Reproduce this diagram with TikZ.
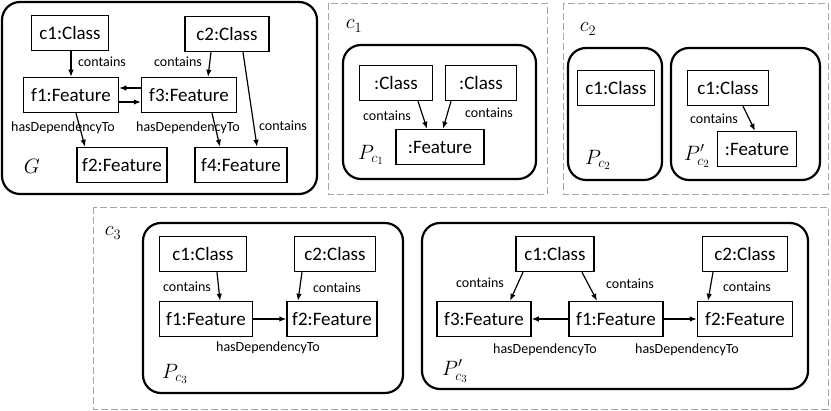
\documentclass[tikz,border=0pt]{standalone}
\usepackage{fontspec}
\setmainfont{Carlito}
\usetikzlibrary{arrows.meta}
\tikzset{
  obj/.style={draw, line width=1.5pt, font=\fontsize{19}{21}\selectfont, minimum height=35pt, minimum width=#1, inner sep=2pt},
  pat/.style={draw, line width=2.2pt, rounded corners=18pt},
  ctx/.style={draw=black!35, line width=0.9pt, dash pattern=on 7pt off 3pt},
  rel/.style={-{Latex[length=7pt,width=5.5pt]}, line width=1.2pt},
  lbl/.style={font=\fontsize{14}{16}\selectfont, inner sep=0pt},
  nm/.style={font=\fontsize{21}{24}\selectfont, inner sep=0pt},
}
\begin{document}
\begin{tikzpicture}[x=1pt, y=-1pt]
\useasboundingbox (0,0) rectangle (831,411);
% graph G
\draw[pat] (2,2) rectangle (317,194);
\node[obj=77pt] (gc1) at (70,33) {c1:Class};
\node[obj=84pt] (gc2) at (227,34) {c2:Class};
\node[obj=95pt] (gf1) at (71,95) {f1:Feature};
\node[obj=95pt] (gf3) at (189,95) {f3:Feature};
\node[obj=90pt] (gf2) at (122,165) {f2:Feature};
\node[obj=92pt] (gf4) at (241,165) {f4:Feature};
\node[nm] (gname) at (32,166) {$G$};
\draw[rel] ([xshift=1pt]gc1.south) -- (gf1.north);
\draw[rel] ([xshift=-16pt]gc2.south) -- ([xshift=19pt]gf3.north);
\draw[rel] ([yshift=7pt]gf3.west) -- ([yshift=7pt]gf1.east);
\draw[rel] ([yshift=-7pt]gf1.east) -- ([yshift=-7pt]gf3.west);
\draw[rel] ([xshift=5pt]gf1.south) -- ([xshift=-37pt]gf2.north);
\draw[rel] ([xshift=23pt]gf3.south) -- ([xshift=-21pt]gf4.north);
\draw[rel] ([xshift=16pt]gc2.south) -- ([xshift=16pt]gf4.north);
\node[lbl] (gl1) at (102,62) {contains};
\node[lbl] (gl2) at (178,62) {contains};
\node[lbl] (gl3) at (63,128) {hasDependencyTo};
\node[lbl] (gl4) at (188,128) {hasDependencyTo};
\node[lbl] (gl5) at (283,126) {contains};

% constraint c1
\draw[ctx] (328,3) rectangle (547,194);
\node[nm] (c1name) at (354,26) {$c_1$};
\draw[pat] (343,45) rectangle (536,179);
\node[obj=73pt] (ac1) at (396,83) {:Class};
\node[obj=71pt] (ac2) at (481,83) {:Class};
\node[obj=88pt] (af) at (440,147) {:Feature};
\draw[rel] ([xshift=22pt]ac1.south) -- ([xshift=-13pt]af.north);
\draw[rel] ([xshift=-30pt]ac2.south) -- ([xshift=3pt]af.north);
\node[lbl] (al1) at (387,116) {contains};
\node[lbl] (al2) at (489,113) {contains};
\node[nm] (aname) at (371,155) {$P_{c_1}$};

% constraint c2
\draw[ctx] (563,3) rectangle (828,194);
\node[nm] (c2name) at (588,29) {$c_2$};
\draw[pat] (568,48) rectangle (662,180);
\node[obj=77pt] (bc1) at (616,88) {c1:Class};
\node[nm] (bname) at (598,160) {$P_{c_2}$};
\draw[pat] (671,48) rectangle (820,180);
\node[obj=81pt] (bbc1) at (728,88) {c1:Class};
\node[obj=79pt] (bbf) at (757,149) {:Feature};
\draw[rel] ([xshift=15pt]bbc1.south) -- ([xshift=-2pt]bbf.north);
\node[lbl] (bbl) at (714,119) {contains};
\node[nm] (bbname) at (697,156) {$P'_{c_2}$};

% constraint c3
\draw[ctx] (93,207) rectangle (828,409);
\node[nm] (c3name) at (113,233) {$c_3$};
\draw[pat] (143,223) rectangle (403,393);
\node[obj=87pt] (dc1) at (203,254) {c1:Class};
\node[obj=81pt] (dc2) at (335,254) {c2:Class};
\node[obj=93pt] (df1) at (206,319) {f1:Feature};
\node[obj=90pt] (df2) at (332,319) {f2:Feature};
\draw[rel] ([xshift=14pt]dc1.south) -- ([xshift=14pt]df1.north);
\draw[rel] ([xshift=-33pt]dc2.south) -- ([xshift=-34pt]df2.north);
\draw[rel] (df1.east) -- (df2.west);
\node[lbl] (dl1) at (187,287) {contains};
\node[lbl] (dl2) at (337,288) {contains};
\node[lbl] (dl3) at (268,348) {hasDependencyTo};
\node[nm] (dname) at (175,374) {$P_{c_3}$};

\draw[pat] (422,223) rectangle (808,389);
\node[obj=78pt] (ec1) at (555,254) {c1:Class};
\node[obj=85pt] (ec2) at (745,254) {c2:Class};
\node[obj=94pt] (ef3) at (484,319) {f3:Feature};
\node[obj=94pt] (ef1) at (616,319) {f1:Feature};
\node[obj=95pt] (ef2) at (745,319) {f2:Feature};
\draw[rel] ([xshift=-32pt]ec1.south) -- ([xshift=26pt]ef3.north);
\draw[rel] ([xshift=27pt]ec1.south) -- ([xshift=-19pt]ef1.north);
\draw[rel] ([xshift=-32pt]ec2.south) -- ([xshift=-37pt]ef2.north);
\draw[rel] (ef1.west) -- (ef3.east);
\draw[rel] (ef1.east) -- (ef2.west);
\node[lbl] (el1) at (480,283) {contains};
\node[lbl] (el2) at (630,284) {contains};
\node[lbl] (el3) at (747,287) {contains};
\node[lbl] (el4) at (545,350) {hasDependencyTo};
\node[lbl] (el5) at (687,350) {hasDependencyTo};
\node[nm] (ename) at (455,371) {$P'_{c_3}$};
\end{tikzpicture}
\end{document}
